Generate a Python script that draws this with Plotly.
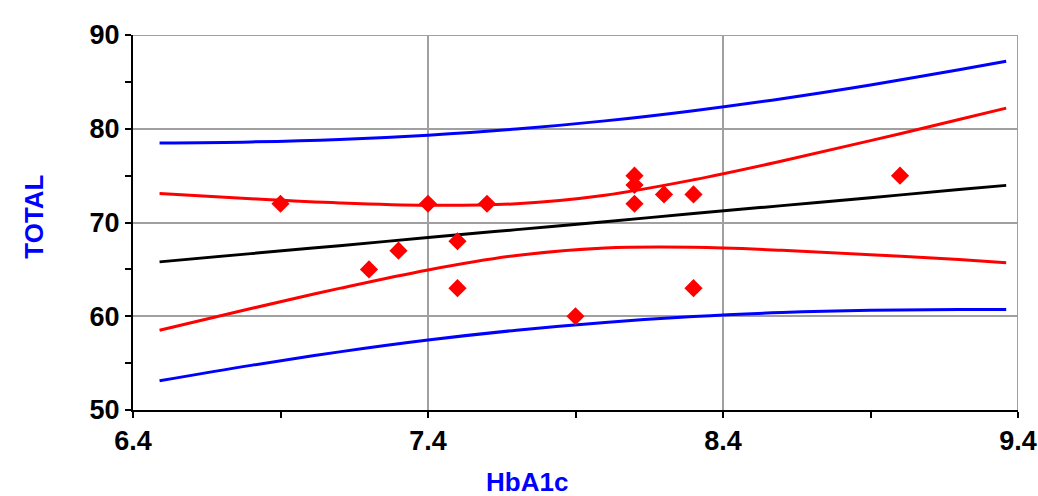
import plotly.graph_objects as go

# Observed data points (HbA1c vs TOTAL)
hba1c = [6.9, 7.2, 7.3, 7.4, 7.5, 7.5, 7.6, 7.9, 8.1, 8.1, 8.1, 8.2, 8.3, 8.3, 9.0]
total = [72, 65, 67, 72, 68, 63, 72, 60, 75, 74, 72, 73, 73, 63, 75]

# Curves
curve_x = [6.49, 6.8, 7.1, 7.4, 7.7, 8.0, 8.3, 8.6, 8.9, 9.2, 9.36]
fit_y = [65.80, 66.68, 67.53, 68.39, 69.24, 70.09, 70.95, 71.80, 72.65, 73.51, 73.96]
ci_low = [58.50, 60.82, 62.97, 64.94, 66.48, 67.27, 67.35, 67.04, 66.57, 66.04, 65.72]
ci_high = [73.10, 72.54, 72.09, 71.84, 72.00, 72.91, 74.55, 76.56, 78.73, 80.98, 82.20]
pi_low = [53.11, 54.76, 56.20, 57.46, 58.51, 59.34, 59.97, 60.39, 60.63, 60.72, 60.71]
pi_high = [78.49, 78.60, 78.86, 79.32, 79.97, 80.84, 81.93, 83.21, 84.67, 86.30, 87.21]

x_ticks = [6.4, 7.4, 8.4, 9.4]
y_ticks = [50, 60, 70, 80, 90]
x_minor = [6.9, 7.9, 8.9]
y_minor = [55, 65, 75, 85]

GRID = "#a0a0a0"

fig = go.Figure()

for ys, col in [(pi_high, "#0000ff"), (pi_low, "#0000ff"),
                (ci_high, "#ff0000"), (ci_low, "#ff0000"),
                (fit_y, "#000000")]:
    fig.add_trace(go.Scatter(x=curve_x, y=ys, mode="lines",
                             line=dict(color=col, width=3, shape="spline"),
                             hoverinfo="skip", showlegend=False))

fig.add_trace(go.Scatter(x=hba1c, y=total, mode="markers",
                         marker=dict(symbol="diamond", size=14, color="#ff0000"),
                         showlegend=False, cliponaxis=False))

tickfont = dict(family="Liberation Sans", size=27, color="#000000", weight="bold")
titlefont = dict(family="Liberation Sans", size=26, color="#0000ff", weight="bold")

axis_common = dict(
    showgrid=True, gridcolor=GRID, gridwidth=2,
    showline=True, linecolor="#000000", linewidth=2,
    ticks="outside", ticklen=6, tickwidth=2, tickcolor="#000000",
    tickfont=tickfont, zeroline=False, automargin=False,
)

fig.update_layout(
    width=1038, height=496,
    margin=dict(l=133, r=20, t=35, b=86),
    paper_bgcolor="white", plot_bgcolor="white",
    xaxis=dict(range=[6.4, 9.4], tickvals=x_ticks, ticktext=[str(v) for v in x_ticks],
               minor=dict(tickvals=x_minor, ticks="outside", ticklen=6,
                          tickwidth=2, tickcolor="#000000", showgrid=False),
               **axis_common),
    yaxis=dict(range=[50, 90], tickvals=y_ticks, ticktext=[str(v) for v in y_ticks],
               minor=dict(tickvals=y_minor, ticks="outside", ticklen=6,
                          tickwidth=2, tickcolor="#000000", showgrid=False),
               **axis_common),
    shapes=[
        dict(type="line", xref="x", yref="y domain", x0=x_ticks[-1], x1=x_ticks[-1],
             y0=0, y1=1, line=dict(color=GRID, width=2), layer="below"),
        dict(type="line", xref="x domain", yref="y", x0=0, x1=1,
             y0=y_ticks[-1], y1=y_ticks[-1], line=dict(color=GRID, width=2), layer="below"),
    ],
    annotations=[
        dict(text="HbA1c", xref="paper", yref="paper", x=0.445, y=-0.148,
             xanchor="center", yanchor="top", showarrow=False, font=titlefont),
        dict(text="TOTAL", xref="paper", yref="paper", x=-0.112, y=0.515,
             xanchor="center", yanchor="middle", textangle=-90,
             showarrow=False, font=titlefont),
    ],
)

fig.write_html(
    "out.html",
    config={"displayModeBar": False},
    post_script="document.body.style.margin='0';document.body.style.overflow='hidden';",
)
